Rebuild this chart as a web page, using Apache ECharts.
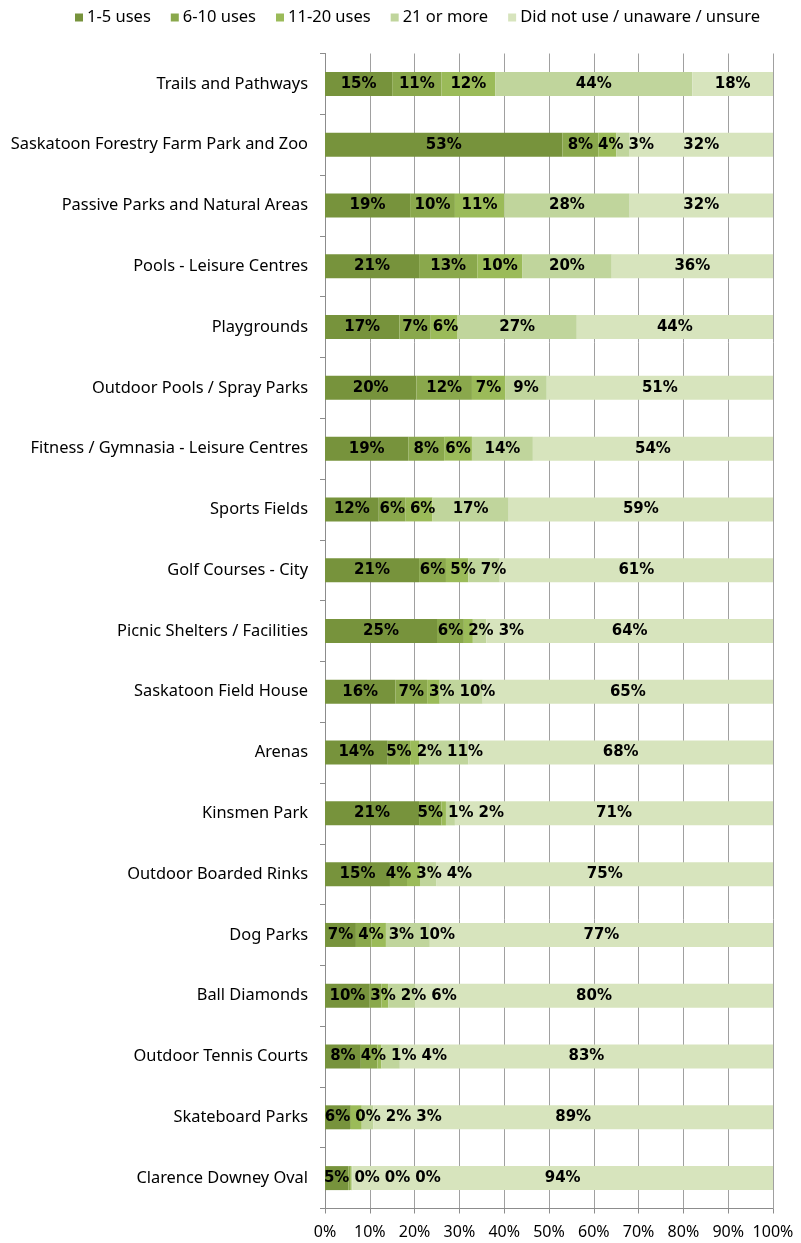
<!DOCTYPE html>
<html><head><meta charset="utf-8">
<script src="https://cdn.jsdelivr.net/npm/echarts@6/dist/echarts.min.js"></script>
<style>html,body{margin:0;padding:0;background:#fff}#c{width:801px;height:1243px}</style>
</head><body><div id="c"></div>
<script>
const categories = [
  'Trails and Pathways',
  'Saskatoon Forestry Farm Park and Zoo',
  'Passive Parks and Natural Areas',
  'Pools - Leisure Centres',
  'Playgrounds',
  'Outdoor Pools / Spray Parks',
  'Fitness / Gymnasia - Leisure Centres',
  'Sports Fields',
  'Golf Courses - City',
  'Picnic Shelters / Facilities',
  'Saskatoon Field House',
  'Arenas',
  'Kinsmen Park',
  'Outdoor Boarded Rinks',
  'Dog Parks',
  'Ball Diamonds',
  'Outdoor Tennis Courts',
  'Skateboard Parks',
  'Clarence Downey Oval'
];
const seriesNames = ['1-5 uses', '6-10 uses', '11-20 uses', '21 or more', 'Did not use / unaware / unsure'];
const uses1to5   = [15, 53, 19, 21, 16.6, 20.4, 18.6, 12, 21, 25, 15.7, 14, 21, 14.5, 6.9, 10, 8, 5.6, 5.2];
const uses6to10  = [11, 8, 10, 13, 7, 12.4, 8, 6, 6, 6, 7.1, 5, 5, 3.8, 3.5, 2.6, 3.7, 0.2, 0.4];
const uses11to20 = [12, 4, 11, 10, 6, 7.4, 6.2, 6, 5, 2, 2.8, 2, 1, 2.9, 3.2, 1.5, 0.9, 2.4, 0.2];
const uses21plus = [44, 3, 28, 20, 26.6, 9.3, 13.6, 17, 7, 3, 9.6, 11, 2, 3.7, 9.8, 6, 4.1, 2.6, 0.3];
const didNotUse  = [18, 32, 32, 36, 43.8, 50.5, 53.6, 59, 61, 64, 64.8, 68, 71, 75.1, 76.6, 79.9, 83.3, 89.2, 93.9];
const xTicks = [0, 10, 20, 30, 40, 50, 60, 70, 80, 90, 100];

const colors = ['#77933C', '#8AA84C', '#9BBB59', '#C0D59C', '#D7E4BD'];
const allSeries = [uses1to5, uses6to10, uses11to20, uses21plus, didNotUse];

const W = 801, H = 1243;
const gridLeft = 325, gridRight = 28, gridTop = 53.5, gridBottom = 34.5;
const labelFont = 'bold 15px "DejaVu Sans"';
const catFont = '"Noto Sans"';

// compute label offsets to avoid overlaps within each row (like the reference)
const cv = document.createElement('canvas').getContext('2d');
cv.font = labelFont;
const pxPer = (W - gridLeft - gridRight) / 100;
const offsets = allSeries.map(() => []);
for (let r = 0; r < categories.length; r++) {
  let cum = 0, prevRight = -Infinity;
  for (let s = 0; s < allSeries.length; s++) {
    const v = allSeries[s][r];
    const txt = Math.round(v) + '%';
    const w = cv.measureText(txt).width;
    const center = (cum + v / 2) * pxPer;
    const desired = center - w / 2;
    const left = Math.max(desired, prevRight + 5);
    offsets[s][r] = left - desired;
    prevRight = left + w;
    cum += v;
  }
}

const chart = echarts.init(document.getElementById('c'), null, {renderer: 'canvas'});
chart.setOption({
  animation: false,
  color: colors,
  legend: {
    top: 4, left: 70,
    icon: 'rect', itemWidth: 8, itemHeight: 8, itemGap: 20,
    textStyle: {fontFamily: catFont, fontSize: 16.5, color: '#000', padding: [0, 0, 0, -1]},
    data: seriesNames
  },
  grid: {left: gridLeft, right: gridRight, top: gridTop, bottom: gridBottom, containLabel: false},
  xAxis: {
    type: 'value', min: 0, max: 100, interval: 10,
    axisLine: {show: true, lineStyle: {color: '#8C8C8C', width: 1}},
    axisTick: {show: true, length: 5, lineStyle: {color: '#8C8C8C'}},
    splitLine: {show: true, lineStyle: {color: '#A0A0A0', width: 1}},
    axisLabel: {formatter: v => xTicks.includes(v) ? v + '%' : '', fontFamily: catFont, fontSize: 16, color: '#000', margin: 16}
  },
  yAxis: {
    type: 'category', inverse: true, data: categories,
    axisLine: {show: true, lineStyle: {color: '#8C8C8C', width: 1}},
    axisTick: {show: true, length: 5, lineStyle: {color: '#8C8C8C'}},
    axisLabel: {fontFamily: catFont, fontSize: 16.4, color: '#000', margin: 17}
  },
  series: allSeries.map((arr, s) => ({
    name: seriesNames[s],
    type: 'bar', stack: 'total', barWidth: 24,
    itemStyle: {color: colors[s]},
    data: arr.map((v, r) => ({
      value: v,
      label: {offset: [offsets[s][r], 0]}
    })),
    label: {
      show: true, position: 'inside',
      formatter: p => Math.round(p.value) + '%',
      fontFamily: '"DejaVu Sans"', fontWeight: 'bold', fontSize: 15, color: '#000'
    }
  }))
});
</script>
</body></html>
